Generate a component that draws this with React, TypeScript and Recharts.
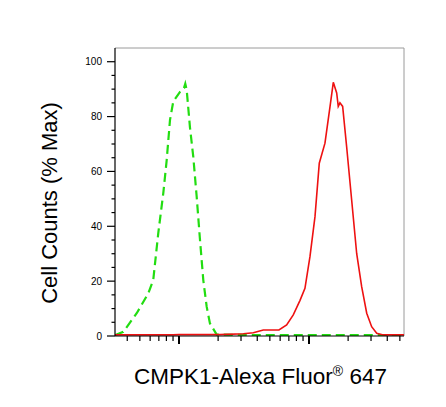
import { LineChart, Line, XAxis, YAxis, ReferenceLine } from "recharts";

// flow histogram, x = fluorescence (log), y = % of max count
const isotypeX = [322, 373, 473, 581, 634, 693, 757, 804, 853, 904, 1018, 1092, 1118, 1146, 1215, 1288, 1368, 1451, 1538, 1633, 1730, 1950, 5000, 20000, 53800];
const isotypeY = [0.3, 1.5, 8.3, 15.6, 20.4, 37.5, 52, 64, 78.8, 85.5, 89, 90.4, 92, 89.8, 76, 65.4, 50.8, 35, 20.4, 10.7, 4.6, 0.5, 0.3, 0.3, 0.3];

const cmpkX = [322, 900, 1000, 2066, 2328, 3126, 3730, 4450, 5875, 6730, 7570, 8530, 9310, 10180, 11120, 11998, 13270, 14520, 15380, 16330, 16790, 17300, 18150, 19480, 21290, 23280, 25420, 27800, 30340, 33190, 37330, 53800];
const cmpkY = [0.4, 0.4, 0.5, 0.5, 0.6, 0.8, 1.2, 2.2, 2.2, 4, 7.7, 13, 17.4, 29, 43.5, 63, 70.3, 83.7, 92.5, 88.6, 83.7, 85, 83.7, 69, 49.6, 30, 18, 8.3, 3.4, 1, 0.4, 0.4];

const xTicks = [400, 500, 600, 700, 800, 900, 1000, 2000, 3000, 4000, 5000, 6000, 7000, 8000, 9000, 10000, 20000, 30000, 40000, 50000];
const xMajor = [1000, 10000];
const yTicks = [0, 5, 10, 15, 20, 25, 30, 35, 40, 45, 50, 55, 60, 65, 70, 75, 80, 85, 90, 95, 100];
const yLabelled = [0, 20, 40, 60, 80, 100];

const isotype = isotypeX.map((x, i) => ({ x, y: isotypeY[i] }));
const cmpk = cmpkX.map((x, i) => ({ x, y: cmpkY[i] }));

const font = "Arial, 'Liberation Sans', sans-serif";

const XTick = ({ x, y, payload }: any) => {
  const major = xMajor.includes(payload.value);
  return (
    <line
      x1={x}
      x2={x}
      y1={y}
      y2={y + (major ? 8 : 5)}
      stroke="#000"
      strokeWidth={major ? 2 : 1.2}
    />
  );
};

const YTick = ({ x, y, payload }: any) => {
  const major = yLabelled.includes(payload.value);
  return (
    <g>
      <line x1={x - (major ? 8 : 3.5)} x2={x} y1={y} y2={y} stroke="#000" strokeWidth={1.2} />
      {major && (
        <text x={x - 13} y={y} dy="0.36em" textAnchor="end" fontSize={10} fontFamily={font} fill="#000">
          {payload.value}
        </text>
      )}
    </g>
  );
};

const XTitle = ({ viewBox }: any) => (
  <text
    x={viewBox.x + viewBox.width / 2 + 1}
    y={384}
    textAnchor="middle"
    fontSize={22.5}
    fontFamily={font}
    fill="#000"
  >
    CMPK1-Alexa Fluor
    <tspan fontSize={14} dy={-8}>®</tspan>
    <tspan dy={8}> 647</tspan>
  </text>
);

const YTitle = ({ viewBox }: any) => {
  const cy = viewBox.y + viewBox.height / 2 + 11;
  return (
    <text
      x={57}
      y={cy}
      transform={`rotate(-90 57 ${cy})`}
      textAnchor="middle"
      fontSize={22}
      fontFamily={font}
      fill="#000"
    >
      Cell Counts (% Max)
    </text>
  );
};

export default function App() {
  return (
    <div style={{ position: "absolute", left: 0, top: 0, width: 446, height: 407, background: "#fff" }}>
      <LineChart width={446} height={407} margin={{ top: 48, right: 42, bottom: 0, left: 0 }}>
        <XAxis
          type="number"
          dataKey="x"
          scale="log"
          domain={[322, 53800]}
          allowDataOverflow
          ticks={xTicks}
          interval={0}
          tick={<XTick />}
          tickLine={false}
          tickSize={0}
          tickMargin={0}
          height={71}
          axisLine={{ stroke: "#000", strokeWidth: 1.2 }}
          label={<XTitle />}
        />
        <YAxis
          type="number"
          dataKey="y"
          domain={[0, 105]}
          allowDataOverflow
          ticks={yTicks}
          interval={0}
          tick={<YTick />}
          tickLine={false}
          tickSize={0}
          tickMargin={0}
          width={115}
          axisLine={{ stroke: "#000", strokeWidth: 1.2 }}
          label={<YTitle />}
        />
        <ReferenceLine y={105} stroke="#9a9a9a" strokeWidth={1} />
        <ReferenceLine x={53800} stroke="#9a9a9a" strokeWidth={1} />
        <Line
          data={isotype}
          dataKey="y"
          type="linear"
          stroke="#22dd11"
          strokeWidth={2.2}
          strokeDasharray="9 5"
          dot={false}
          isAnimationActive={false}
        />
        <Line
          data={cmpk}
          dataKey="y"
          type="linear"
          stroke="#ee1111"
          strokeWidth={1.6}
          dot={false}
          isAnimationActive={false}
        />
      </LineChart>
    </div>
  );
}
